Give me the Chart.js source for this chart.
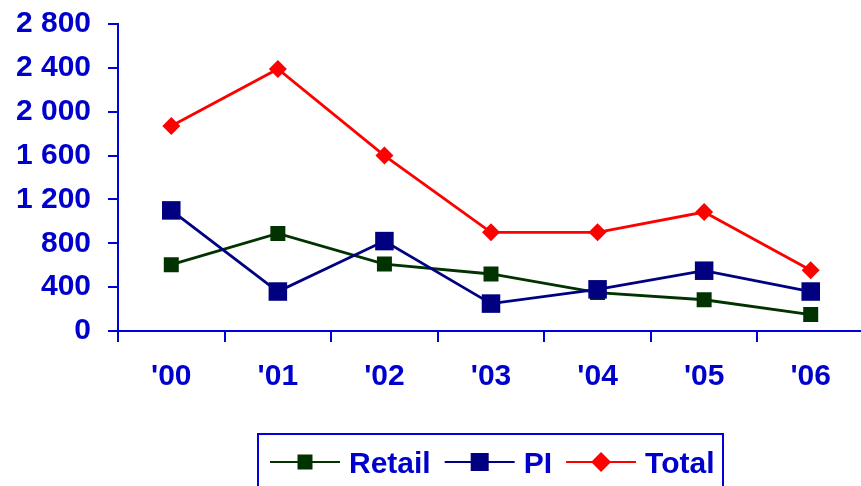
<!DOCTYPE html>
<html>
<head>
<meta charset="utf-8">
<script src="https://cdn.jsdelivr.net/npm/chart.js@4/dist/chart.umd.min.js"></script>
<style>
  html, body { margin: 0; padding: 0; background: #fff; overflow: hidden; }
  #wrap { width: 864px; height: 486px; }
</style>
</head>
<body>
<div id="wrap"><canvas id="c" width="864" height="486"></canvas></div>
<script>
// Years on the category axis
const years = ["'00", "'01", "'02", "'03", "'04", "'05", "'06"];

// Series values
const retail = [605, 890, 610, 520, 350, 285, 150];
const pi     = [1100, 360, 820, 250, 380, 550, 360];
const total  = [1870, 2390, 1600, 900, 900, 1085, 555];

// Value axis tick labels (space as thousands separator)
const yTickValues = [0, 400, 800, 1200, 1600, 2000, 2400, 2800];
const yTickLabels = ['0', '400', '800', '1 200', '1 600', '2 000', '2 400', '2 800'];

const BLUE = '#0000CC';
const AXIS = '#0000DD';
const FONT = { family: '"Liberation Sans", Arial, sans-serif', size: 30, weight: 'bold' };

// Legend with a line segment and marker per series, inside a bordered box
const boxedLegend = {
  id: 'boxedLegend',
  afterDraw(chart) {
    const ctx = chart.ctx;
    ctx.save();
    ctx.lineWidth = 2;
    ctx.strokeStyle = AXIS;
    ctx.strokeRect(258, 434, 465, 80);

    ctx.font = 'bold 30px "Liberation Sans", Arial, sans-serif';
    ctx.textBaseline = 'alphabetic';
    ctx.textAlign = 'left';
    const cy = 462;
    let x = 270;
    chart.data.datasets.forEach(ds => {
      const seg = 70;
      ctx.strokeStyle = ds.borderColor;
      ctx.lineWidth = 2;
      ctx.beginPath();
      ctx.moveTo(x, cy);
      ctx.lineTo(x + seg, cy);
      ctx.stroke();
      const mx = x + seg / 2;
      ctx.fillStyle = ds.pointBackgroundColor;
      ctx.beginPath();
      if (ds.pointStyle === 'rectRot') {
        const r = 10;
        ctx.moveTo(mx - r, cy); ctx.lineTo(mx, cy - r);
        ctx.lineTo(mx + r, cy); ctx.lineTo(mx, cy + r);
        ctx.closePath();
      } else {
        const h = ds.legendMarker / 2;
        ctx.rect(mx - h, cy - h, 2 * h, 2 * h);
      }
      ctx.fill();
      ctx.fillStyle = BLUE;
      ctx.fillText(ds.label, x + seg + 9, 473);
      x += seg + 9 + ctx.measureText(ds.label).width + 14;
    });
    ctx.restore();
  }
};

new Chart(document.getElementById('c'), {
  type: 'line',
  data: {
    labels: years,
    datasets: [
      {
        label: 'Retail', data: retail, order: 3,
        borderColor: '#003300', backgroundColor: '#003300',
        pointBackgroundColor: '#003300', pointBorderColor: '#003300',
        pointStyle: 'rect', pointRadius: 10.6, pointBorderWidth: 0,
        borderWidth: 2.8, tension: 0, legendMarker: 15
      },
      {
        label: 'PI', data: pi, order: 2,
        borderColor: '#000080', backgroundColor: '#000080',
        pointBackgroundColor: '#000080', pointBorderColor: '#000080',
        pointStyle: 'rect', pointRadius: 13.1, pointBorderWidth: 0,
        borderWidth: 2.8, tension: 0, legendMarker: 18
      },
      {
        label: 'Total', data: total, order: 1,
        borderColor: '#FF0000', backgroundColor: '#FF0000',
        pointBackgroundColor: '#FF0000', pointBorderColor: '#FF0000',
        pointStyle: 'rectRot', pointRadius: 9, pointBorderWidth: 0,
        borderWidth: 2.8, tension: 0
      }
    ]
  },
  options: {
    responsive: false,
    animation: false,
    events: [],
    layout: { autoPadding: false, padding: { top: 24, left: 0, right: 0, bottom: 0 } },
    plugins: {
      legend: { display: false },
      tooltip: { enabled: false }
    },
    scales: {
      x: {
        type: 'category',
        offset: true,
        grid: {
          offset: true, drawOnChartArea: false, drawTicks: true,
          tickLength: 11, color: AXIS, lineWidth: 2
        },
        border: { color: AXIS, width: 2 },
        ticks: { color: BLUE, font: FONT, padding: 17, maxRotation: 0 },
        afterFit(axis) {
          axis.height = 155;
          axis.paddingLeft = 0;
          axis.paddingRight = 0;
        }
      },
      y: {
        min: 0, max: 2800,
        grid: {
          drawOnChartArea: false, drawTicks: true,
          tickLength: 10, color: AXIS, lineWidth: 2
        },
        border: { color: AXIS, width: 2 },
        afterBuildTicks(axis) {
          axis.ticks = yTickValues.map(v => ({ value: v }));
        },
        ticks: {
          color: BLUE, font: FONT, padding: 17,
          callback: (v) => yTickLabels[yTickValues.indexOf(v)]
        },
        afterFit(axis) {
          axis.width = 118;
          axis.paddingTop = 0;
          axis.paddingBottom = 0;
        }
      }
    }
  },
  plugins: [boxedLegend]
});
</script>
</body>
</html>
